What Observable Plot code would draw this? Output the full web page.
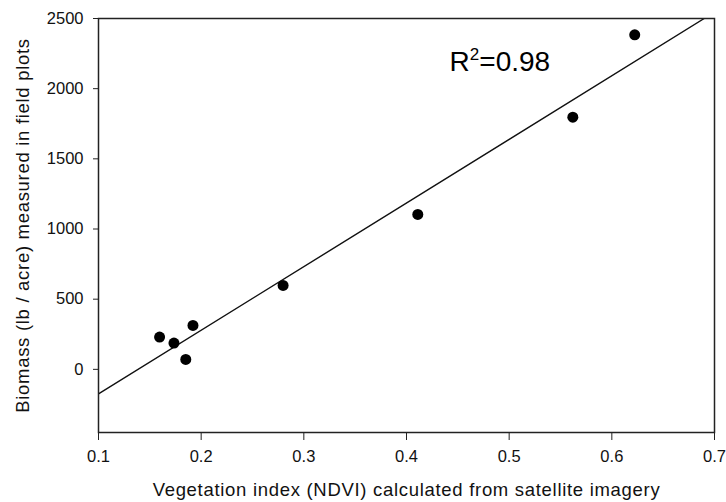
<!DOCTYPE html>
<html><head><meta charset="utf-8">
<script src="https://cdn.jsdelivr.net/npm/d3@7"></script>
<script src="https://cdn.jsdelivr.net/npm/@observablehq/plot@0.6"></script>
<style>
body{margin:0;background:#fff;}
#chart svg text { font-size: 16.5px; }
#chart svg g[aria-label="x-axis label"] text, #chart svg g[aria-label="y-axis label"] text { font-size: 18.5px; letter-spacing: 0.7px; }
#chart svg g.r2 text { font-size: 28px; }
</style>
</head><body><div id="chart"></div>
<script>
// Observed field plots
const ndvi = [0.1595, 0.1735, 0.185, 0.192, 0.2798, 0.411, 0.562, 0.6223];
const biomass = [230, 187, 71, 313, 598, 1104, 1797, 2384];
// Fitted regression line (end points)
const fitNdvi = [0.1, 0.69];
const fitBiomass = [-175, 2500];
// Axis ticks
const xTicks = [0.1, 0.2, 0.3, 0.4, 0.5, 0.6, 0.7];
const yTicks = [0, 500, 1000, 1500, 2000, 2500];
// Annotation
const rLabel = ["R2=0.98"];
const rLabelX = [0.442];
const rLabelY = [2190];

const points = ndvi.map((x, i) => ({x, y: biomass[i]}));
const fit = fitNdvi.map((x, i) => ({x, y: fitBiomass[i]}));
const ann = rLabel.map((t, i) => ({t, x: rLabelX[i], y: rLabelY[i]}));

const chart = Plot.plot({
  width: 726,
  height: 502,
  marginLeft: 98,
  marginRight: 12,
  marginTop: 18,
  marginBottom: 70,
  style: {fontFamily: "'Liberation Sans', Arial, sans-serif", color: "#111", background: "#fff"},
  x: {domain: [0.1, 0.7]},
  y: {domain: [-450, 2500]},
  marks: [
    Plot.axisX({ticks: xTicks, tickFormat: d3.format(".1f"), tickSize: 8, tickPadding: 10, stroke: "#222",
      label: "Vegetation index (NDVI) calculated from satellite imagery", labelAnchor: "center", labelOffset: 63, labelArrow: false}),
    Plot.axisY({ticks: yTicks, tickFormat: d => String(d), tickSize: 5, tickPadding: 10, stroke: "#222",
      label: "Biomass (lb / acre) measured in field plots", labelAnchor: "center", labelOffset: 83, labelArrow: false}),
    Plot.line(fit, {x: "x", y: "y", stroke: "#111", strokeWidth: 1.4, clip: true}),
    Plot.dot(points, {x: "x", y: "y", r: 5.5, fill: "#000", stroke: "none"}),
    Plot.text(ann, {x: "x", y: "y", text: "t", textAnchor: "start", fontSize: 28, fill: "#000", className: "r2"}),
    Plot.frame({stroke: "#222", strokeWidth: 1.5})
  ]
});
document.getElementById("chart").appendChild(chart);
// Render the "2" after R as a superscript
chart.querySelectorAll(".r2 text").forEach(t => {
  const s = t.textContent;
  const m = s.match(/^R2(.*)$/);
  if (!m) return;
  t.textContent = "R";
  const sup = document.createElementNS("http://www.w3.org/2000/svg", "tspan");
  sup.setAttribute("font-size", "17");
  sup.setAttribute("dy", "-11");
  sup.textContent = "2";
  const rest = document.createElementNS("http://www.w3.org/2000/svg", "tspan");
  rest.setAttribute("dy", "11");
  rest.textContent = m[1];
  t.appendChild(sup);
  t.appendChild(rest);
});
</script>
</body></html>
